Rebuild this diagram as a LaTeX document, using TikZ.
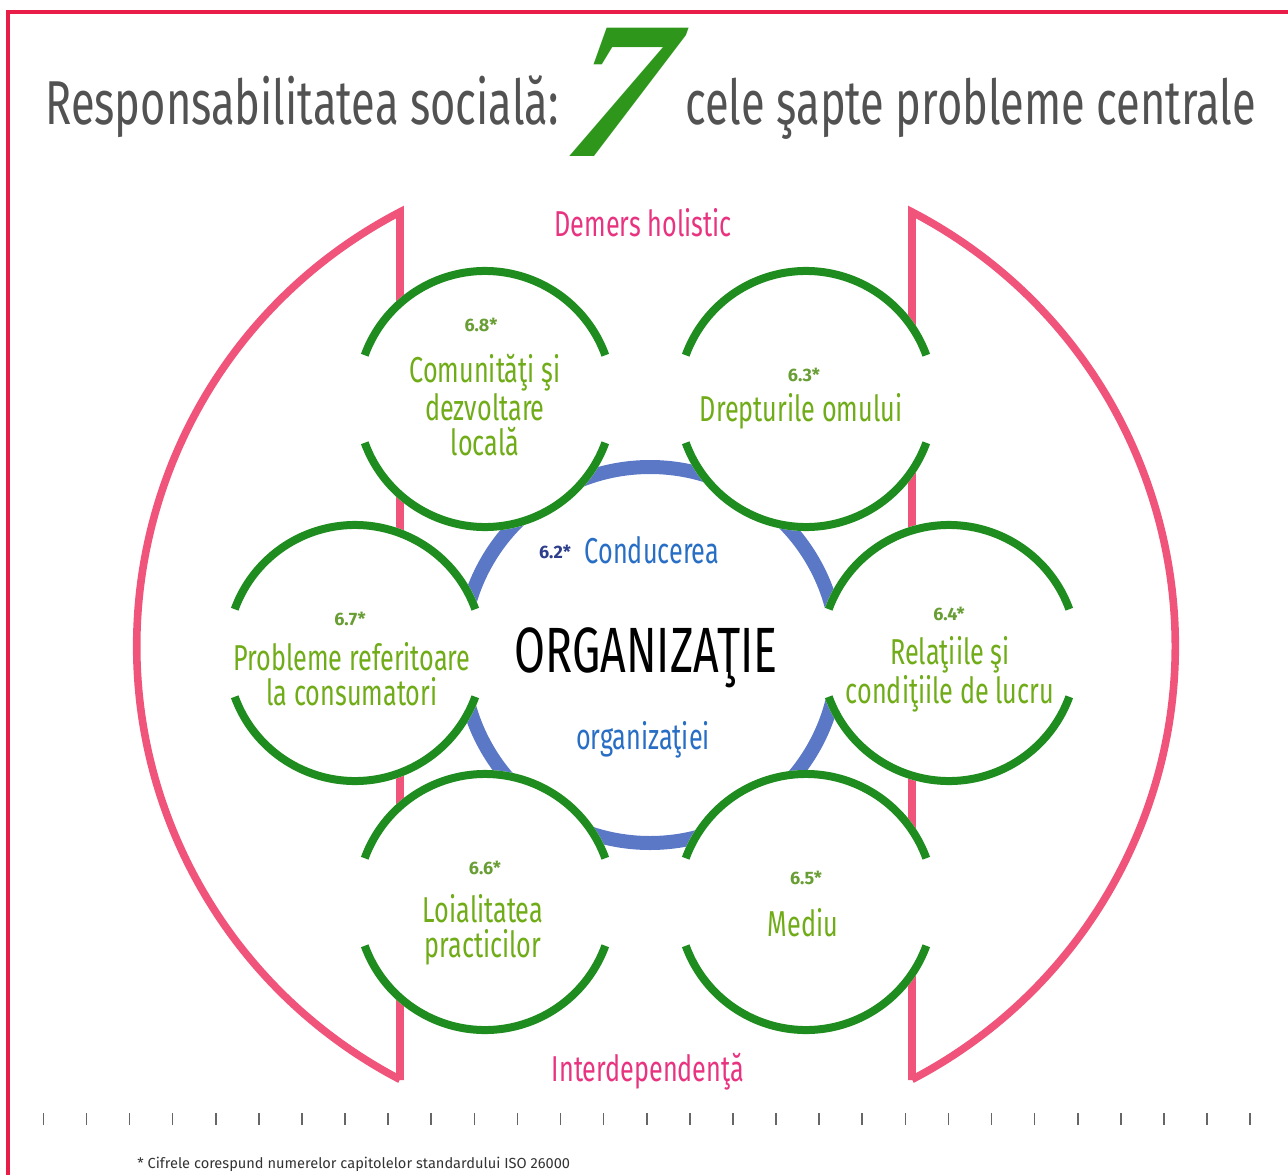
\documentclass[tikz,border=0pt]{standalone}
\usepackage{fontspec}
\setmainfont{Fira Sans}
\newfontfamily\narrowfont[FakeStretch=0.70]{Fira Sans}
\newfontfamily\titlefont[FakeStretch=0.70]{Fira Sans}
\newfontfamily\sevenfont{Liberation Serif}
\definecolor{framered}{RGB}{232,30,72}
\definecolor{pinkred}{RGB}{240,84,122}
\definecolor{pinktext}{RGB}{232,52,128}
\definecolor{leafgreen}{RGB}{30,140,30}
\definecolor{limegreen}{RGB}{112,172,24}
\definecolor{numgreen}{RGB}{104,158,52}
\definecolor{ringblue}{RGB}{90,120,198}
\definecolor{textblue}{RGB}{40,110,196}
\definecolor{navyblue}{RGB}{44,62,140}
\definecolor{titlegray}{RGB}{82,82,82}
\begin{document}
\begin{tikzpicture}[x=0.5pt,y=0.5pt,
    pinkline/.style={draw=pinkred, line width=3.8pt, miter limit=25},
    greenarc/.style={draw=leafgreen, line width=4pt},
    topic/.style={text=limegreen, font=\narrowfont\fontsize{18}{17.5}\selectfont, align=center},
    chapter/.style={text=numgreen, font=\bfseries\fontsize{9}{10}\selectfont},
    caption/.style={text=pinktext, font=\narrowfont\fontsize{18}{18}\selectfont},
    headline/.style={anchor=base west, text=titlegray, font=\titlefont\fontsize{31}{32}\selectfont, inner sep=0},
    tickmark/.style={draw=gray!80!black, line width=0.8pt}]
    \useasboundingbox (0,0) rectangle (1288,1175);
    \draw[framered, line width=1.6pt] (8,0) -- (8,1163) -- (1288,1163);

    % title
    \node[headline] (titleleft) at (45,1050) {Responsabilitatea socială:};
    \node[headline] (titleright) at (685,1050) {cele şapte probleme centrale};
    \node[text=leafgreen!90!lime, font=\sevenfont\bfseries\itshape\fontsize{98}{98}\selectfont, inner sep=0, xslant=0.18, transform shape] (seven) at (622,1083) {7};

    % holistic frame
    \draw[pinkline] (400,95) -- (400,963) arc[start angle=117.5, end angle=242.5, radius=489] -- cycle;
    \draw[pinkline] (912,95) -- (912,963) arc[start angle=62.5, end angle=-62.5, radius=489] -- cycle;

    % governance ring
    \coordinate (org) at (650,520);
    \draw[draw=ringblue, line width=7pt] (org) circle (188);

    % the six core subjects
    \foreach \c/\x/\y in {c68/485/776, c63/806/776, c67/355/522, c64/949/522, c66/485/273, c65/806/273} {
        \coordinate (\c) at (\x,\y);
        \fill[white] (\c) circle (132);
        \draw[greenarc] ([shift={(20:128)}]\c) arc (20:160:128);
        \draw[greenarc] ([shift={(200:128)}]\c) arc (200:340:128);
    }

    \node[chapter] (n68) at (481,850) {6.8*};
    \node[topic] (t68) at (485,770) {Comunităţi şi\\dezvoltare\\locală};
    \node[chapter] (n63) at (804,800) {6.3*};
    \node[topic] (t63) at (801,764) {Drepturile omului};
    \node[chapter] (n67) at (350,556) {6.7*};
    \node[topic] (t67) at (352,501) {Probleme referitoare\\la consumatori};
    \node[chapter] (n64) at (949,561) {6.4*};
    \node[topic] (t64) at (950,501) {Relaţiile şi\\condiţiile de lucru};
    \node[chapter] (n66) at (485,307) {6.6*};
    \node[topic] (t66) at (483,245) {Loialitatea\\practicilor};
    \node[chapter] (n65) at (806,297) {6.5*};
    \node[topic] (t65) at (803,252) {Mediu};

    % centre
    \node[text=navyblue, font=\bfseries\fontsize{9}{10}\selectfont] (n62) at (555,623) {6.2*};
    \node[text=textblue, font=\narrowfont\fontsize{18}{18}\selectfont] (lead) at (652,625) {Conducerea};
    \node[text=textblue, font=\narrowfont\fontsize{18}{18}\selectfont] (lead2) at (643,435) {organizaţiei};
    \node[font=\narrowfont\fontsize{32}{32}\selectfont] (orgname) at (646,517) {ORGANIZAŢIE};

    \node[caption] (holistic) at (643,952) {Demers holistic};
    \node[caption] (interdep) at (648,103) {Interdependenţă};

    % scale and footnote
    \foreach \i in {0,...,28}
        \draw[tickmark] ({43.3+43.1*\i},50) -- ++(0,12);
    \node[anchor=base west, inner sep=0, text=black!80, font=\fontsize{7.3}{8}\selectfont] (note) at (137,7) {* Cifrele corespund numerelor capitolelor standardului ISO 26000};
\end{tikzpicture}
\end{document}
